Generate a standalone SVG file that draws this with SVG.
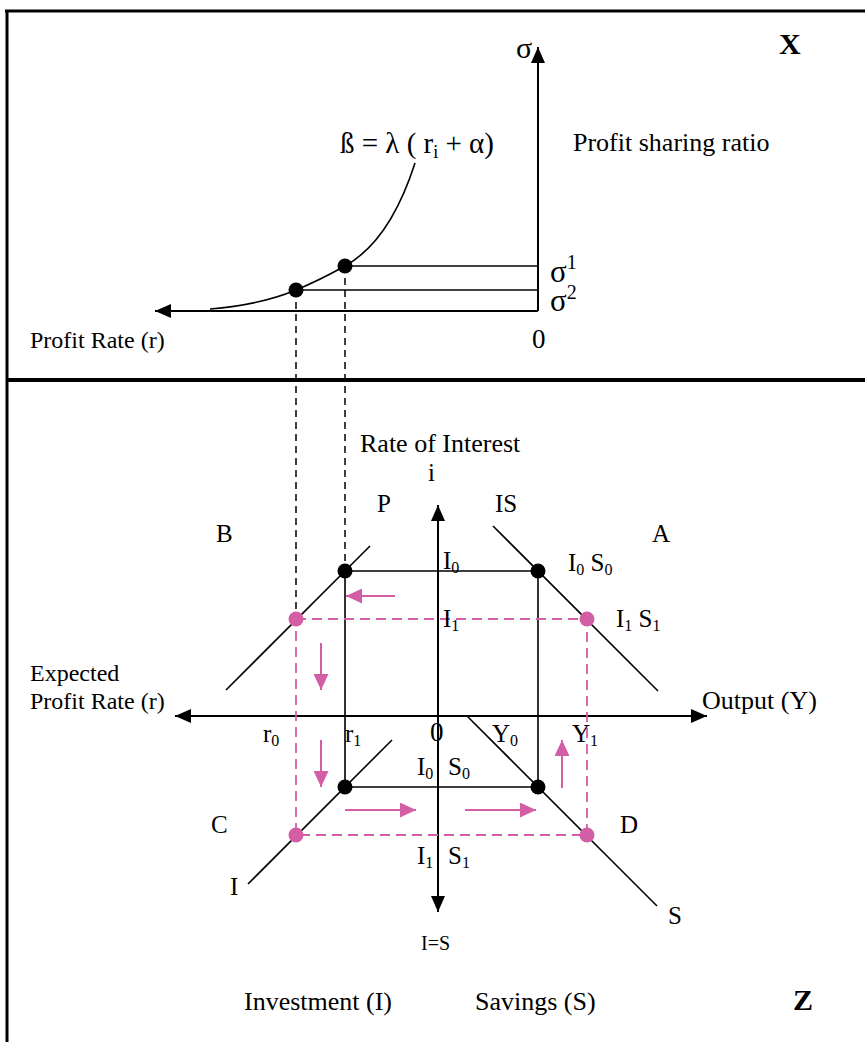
<svg xmlns="http://www.w3.org/2000/svg" width="865" height="1042" viewBox="0 0 865 1042">
<defs>
<style>
text{font-family:"Liberation Serif","Times New Roman",serif;fill:#000;font-size:25px}
.lg{font-size:26px}
.sm{font-size:24px}
.b{font-weight:bold;font-size:30px}
.ln{stroke:#000;stroke-width:1.6;fill:none}
.ax{stroke:#000;stroke-width:2;fill:none}
.dk{stroke:#000;stroke-width:1.5;stroke-dasharray:7,5;fill:none}
.pk{stroke:#d45ea6;stroke-width:1.8;stroke-dasharray:10,6;fill:none}
.pa{stroke:#d45ea6;stroke-width:2;fill:none}
.dot{fill:#000}
.pdot{fill:#d45ea6}
</style>
<marker id="ah" markerUnits="userSpaceOnUse" markerWidth="16" markerHeight="14" refX="16" refY="7" orient="auto"><path d="M0,0 L16,7 L0,14 z" fill="#000"/></marker>
<marker id="ph" markerUnits="userSpaceOnUse" markerWidth="16" markerHeight="15" refX="16" refY="7.5" orient="auto"><path d="M0,0 L16,7.5 L0,15 z" fill="#d45ea6"/></marker>
</defs>
<rect width="865" height="1042" fill="#fff"/>
<g id="frame">
<line x1="5" y1="11" x2="865" y2="11" stroke="#000" stroke-width="3"/>
<line x1="7" y1="10" x2="7" y2="1042" stroke="#000" stroke-width="3"/>
<line x1="6" y1="380" x2="865" y2="380" stroke="#000" stroke-width="4"/>
</g>
<g id="connectors">
<line class="ax" x1="538" y1="311" x2="538" y2="47" marker-end="url(#ah)"/>
<line class="ax" x1="538" y1="311" x2="155" y2="311" marker-end="url(#ah)"/>
<path class="ln" d="M210,309 Q260,305 296,290 Q320,280 345,266 Q390,241 415,163"/>
<line class="ln" x1="345" y1="266" x2="538" y2="266"/>
<line class="ln" x1="296" y1="290" x2="538" y2="290"/>
<line class="dk" x1="296" y1="290" x2="296" y2="619"/>
<line class="dk" x1="345" y1="266" x2="345" y2="571"/>
<line class="ax" x1="438" y1="716" x2="438" y2="505" marker-end="url(#ah)"/>
<line class="ax" x1="438" y1="716" x2="438" y2="912" marker-end="url(#ah)"/>
<line class="ax" x1="438" y1="716" x2="175" y2="716" marker-end="url(#ah)"/>
<line class="ax" x1="438" y1="716" x2="707" y2="716" marker-end="url(#ah)"/>
<line class="ln" x1="226" y1="690" x2="370" y2="546"/>
<line class="ln" x1="493" y1="526" x2="658" y2="691"/>
<line class="ln" x1="248" y1="884" x2="392" y2="740"/>
<line class="ln" x1="467" y1="716" x2="657" y2="906"/>
<path class="ln" d="M345,571 H538 V787 H345 Z"/>
<path class="pk" d="M296,619 H587 V835 H296 Z"/>
<line class="pa" x1="395" y1="596" x2="346" y2="596" marker-end="url(#ph)"/>
<line class="pa" x1="321" y1="643" x2="321" y2="690" marker-end="url(#ph)"/>
<line class="pa" x1="321" y1="740" x2="321" y2="787" marker-end="url(#ph)"/>
<line class="pa" x1="345" y1="810" x2="416" y2="810" marker-end="url(#ph)"/>
<line class="pa" x1="465" y1="810" x2="536" y2="810" marker-end="url(#ph)"/>
<line class="pa" x1="562" y1="788" x2="562" y2="740" marker-end="url(#ph)"/>
</g>
<g id="points">
<circle class="dot" cx="345" cy="266" r="7.5"/>
<circle class="dot" cx="296" cy="290" r="7.5"/>
<circle class="dot" cx="345" cy="571" r="7.5"/>
<circle class="dot" cx="538" cy="571" r="7.5"/>
<circle class="dot" cx="345" cy="787" r="7.5"/>
<circle class="dot" cx="538" cy="787" r="7.5"/>
<circle class="pdot" cx="296" cy="619" r="7.5"/>
<circle class="pdot" cx="587" cy="619" r="7.5"/>
<circle class="pdot" cx="296" cy="835" r="7.5"/>
<circle class="pdot" cx="587" cy="835" r="7.5"/>
</g>
<g id="top-labels">
<text x="516" y="58" style="font-size:30px">σ</text>
<text class="b" x="779" y="54">X</text>
<text class="lg" x="573" y="151">Profit sharing ratio</text>
<text x="340" y="153" style="font-size:29px">ß = λ ( r<tspan style="font-size:18px" dy="5">i</tspan><tspan dy="-5"> + α)</tspan></text>
<text x="550" y="282" style="font-size:31px">σ<tspan style="font-size:20px" dy="-13">1</tspan></text>
<text x="550" y="311" style="font-size:31px">σ<tspan style="font-size:20px" dy="-12">2</tspan></text>
<text x="532" y="348" style="font-size:27px">0</text>
<text class="sm" x="30" y="348">Profit Rate (r)</text>
</g>
<g id="bottom-labels">
<text class="lg" x="360" y="452">Rate of Interest</text>
<text x="428" y="481">i</text>
<text x="216" y="542">B</text>
<text x="377" y="512">P</text>
<text x="495" y="512">IS</text>
<text x="652" y="542">A</text>
<text x="443" y="569">I<tspan style="font-size:16px" dy="4">0</tspan></text>
<text x="568" y="571">I<tspan style="font-size:16px" dy="4">0</tspan><tspan dy="-4"> S</tspan><tspan style="font-size:16px" dy="4">0</tspan></text>
<text x="443" y="627">I<tspan style="font-size:16px" dy="4">1</tspan></text>
<text x="616" y="627">I<tspan style="font-size:16px" dy="4">1</tspan><tspan dy="-4"> S</tspan><tspan style="font-size:16px" dy="4">1</tspan></text>
<text class="sm" x="30" y="681">Expected</text>
<text class="sm" x="30" y="709">Profit Rate (r)</text>
<text class="lg" x="702" y="709">Output (Y)</text>
<text x="263" y="742">r<tspan style="font-size:16px" dy="4">0</tspan></text>
<text x="345" y="742">r<tspan style="font-size:16px" dy="4">1</tspan></text>
<text x="430" y="741" style="font-size:27px">0</text>
<text x="492" y="742">Y<tspan style="font-size:16px" dy="4">0</tspan></text>
<text x="572" y="742">Y<tspan style="font-size:16px" dy="4">1</tspan></text>
<text x="417" y="775">I<tspan style="font-size:16px" dy="4">0</tspan></text>
<text x="448" y="775">S<tspan style="font-size:16px" dy="4">0</tspan></text>
<text x="211" y="833">C</text>
<text x="620" y="833">D</text>
<text x="417" y="864">I<tspan style="font-size:16px" dy="4">1</tspan></text>
<text x="448" y="864">S<tspan style="font-size:16px" dy="4">1</tspan></text>
<text x="230" y="895">I</text>
<text x="668" y="924">S</text>
<text x="421" y="950" style="font-size:20px">I=S</text>
<text class="lg" x="244" y="1010">Investment (I)</text>
<text class="lg" x="475" y="1010">Savings (S)</text>
<text class="b" x="793" y="1010">Z</text>
</g>
</svg>
